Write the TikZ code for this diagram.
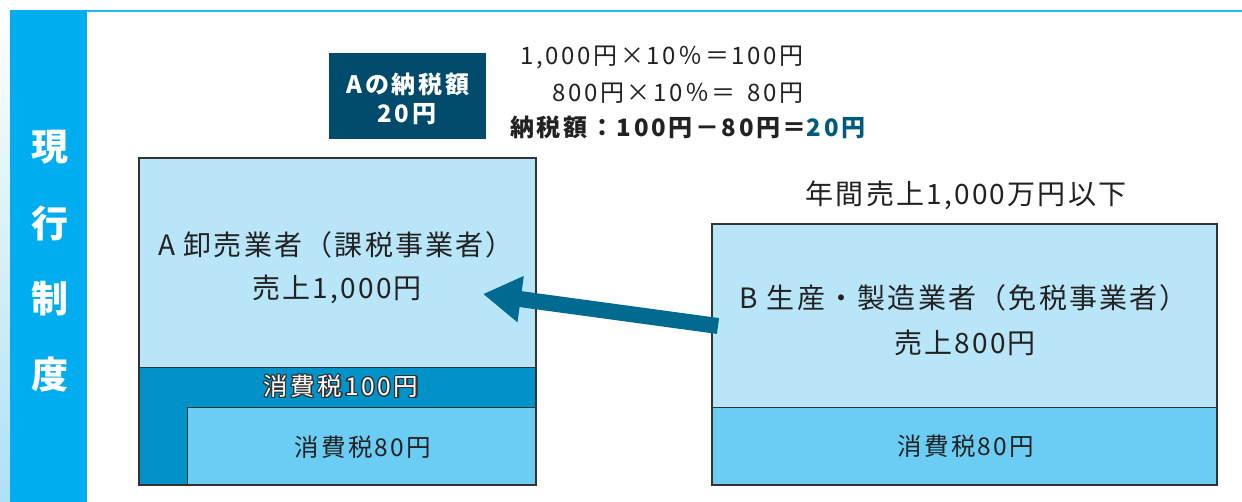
\documentclass[tikz,border=0pt]{standalone}
\usepackage{fontspec}
\setmainfont{Noto Sans CJK JP}[LetterSpace=11]
\usepackage{contour}
\contourlength{1.2pt}
\usetikzlibrary{arrows.meta}
\definecolor{band}{HTML}{00AEEF}
\definecolor{lightbox}{HTML}{B9E5F8}
\definecolor{darkband}{HTML}{0092C8}
\definecolor{midbox}{HTML}{6BCDF4}
\definecolor{arrowc}{HTML}{006A91}
\definecolor{navybox}{HTML}{004B6B}
\definecolor{bluetext}{HTML}{005A7E}
\definecolor{txt}{HTML}{222222}
\definecolor{edge}{HTML}{333333}
\begin{document}
\begin{tikzpicture}[x=1pt,y=-1pt,
  boxpart/.style={draw=edge, line width=1.4pt, inner sep=0pt, anchor=north west},
  lbl/.style={text=txt, inner sep=0pt, font=\fontsize{28}{30}\selectfont\addfontfeature{LetterSpace=8}},
  taxlbl/.style={text=txt, inner sep=0pt, font=\fontsize{24.5}{26}\selectfont\addfontfeature{LetterSpace=9}},
  vlbl/.style={text=white, inner sep=0pt, font=\bfseries\fontsize{37}{37}\selectfont},
  calc/.style={text=txt, inner sep=0pt, font=\fontsize{24}{26}\selectfont}]
\useasboundingbox (0,0) rectangle (1242,502);
\fill[white] (0,0) rectangle (1242,502);
% left faint gradient strip
\shade[top color=white, bottom color={rgb,255:red,175;green,224;blue,246}] (0,0) rectangle (10,502);
% top line and side band
\fill[band!85] (10,10) rectangle (1242,12.5);
\fill[band] (10,10) rectangle (87,502);
\node[vlbl] (v1) at (50,147) {現};
\node[vlbl] (v2) at (50,223) {行};
\node[vlbl] (v3) at (50,299) {制};
\node[vlbl] (v4) at (50,375) {度};
% box A
\node[boxpart, fill=lightbox, minimum width=397pt, minimum height=209pt] (Atop) at (139,158) {};
\node[boxpart, fill=darkband, minimum width=397pt, minimum height=118pt] (Aband) at (139,367) {};
\node[boxpart, fill=midbox, minimum width=349pt, minimum height=78pt] (Ainner) at (187,407) {};
\draw[edge, line width=1.6pt] (139,158) rectangle (536,485);
\node[lbl] (Aname) at (336,245) {A 卸売業者（課税事業者）};
\node[lbl] (Asales) at (337,289) {売上1,000円};
\node[inner sep=0pt, text=white, font=\fontsize{24.5}{26}\selectfont] (Atax) at (341,387) {\contour{edge}{消費税100円}};
\node[taxlbl] (Ain) at (363,447) {消費税80円};
% box B
\node[lbl] (Bcond) at (966,195) {年間売上1,000万円以下};
\node[boxpart, fill=lightbox, minimum width=505pt, minimum height=183pt] (Btop) at (712,224) {};
\node[boxpart, fill=midbox, minimum width=505pt, minimum height=78pt] (Bbot) at (712,407) {};
\draw[edge, line width=1.6pt] (712,224) rectangle (1217,485);
\node[lbl] (Bname) at (964,298) {B 生産・製造業者（免税事業者）};
\node[lbl] (Bsales) at (965,343) {売上800円};
\node[taxlbl] (Btax) at (966,446) {消費税80円};
% arrow
\coordinate (arrtail) at (718,326);
\coordinate (arrtip) at (483,294);
\draw[arrowc, line width=16pt, -{Triangle[length=38pt, width=44pt]}] (arrtail) -- (arrtip);
% navy box
\node[fill=navybox, inner sep=0pt, minimum width=157pt, minimum height=86pt, anchor=north west] (navy) at (329,53) {};
\node[text=white, inner sep=0pt, font=\bfseries\fontsize{24}{26}\selectfont] (navy1) at (408,84) {Aの納税額};
\node[text=white, inner sep=0pt, font=\bfseries\fontsize{24}{26}\selectfont] (navy2) at (407,114) {20円};
% calculation
\node[calc, anchor=east] (c1) at (804,58) {1,000円×10％＝100円};
\node[calc, anchor=east] (c2) at (804,93) {800円×10％＝\hspace{0.5em}80円};
\node[calc, anchor=west, font=\bfseries\fontsize{24}{26}\selectfont] (c3) at (510,127) {納税額：100円－80円＝\textcolor{bluetext}{20円}};
\end{tikzpicture}
\end{document}
